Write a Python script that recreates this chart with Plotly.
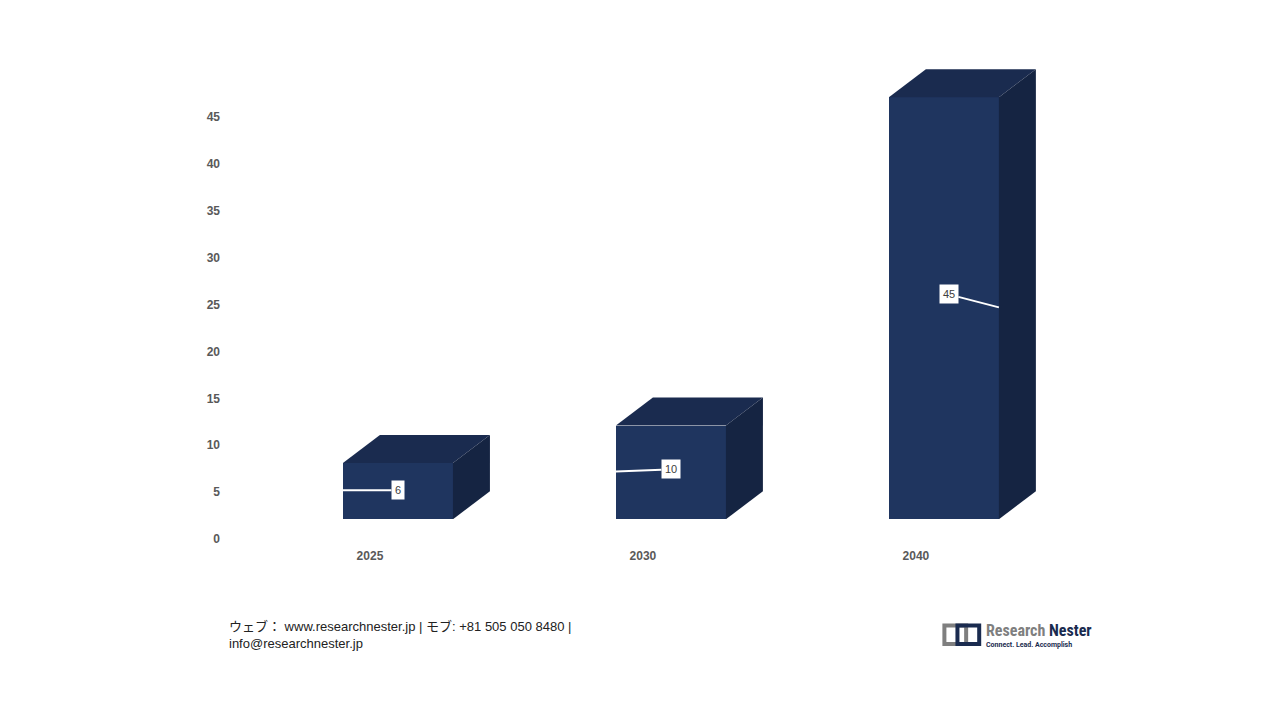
import plotly.graph_objects as go

years = ["2025", "2030", "2040"]
values = [6, 10, 45]
y_ticks = [0, 5, 10, 15, 20, 25, 30, 35, 40, 45]

front_col = "#1F355F"
top_col = "#1A2B4F"
side_col = "#152442"

base = 2.1      # floor of the 3D box
x_off = -0.099  # front face left edge relative to category
bar_w = 0.403
dx, dy = 0.1355, 3.0  # depth of the box

fig = go.Figure()

fig.add_trace(go.Bar(
    x=list(range(len(years))), y=values, base=base, width=bar_w, offset=x_off,
    marker=dict(color=front_col, line=dict(width=0)), showlegend=False, hoverinfo="skip"
))

for i, v in enumerate(values):
    x0, x1 = i + x_off, i + x_off + bar_w
    t = base + v
    fig.add_trace(go.Scatter(
        x=[x0, x1, x1 + dx, x0 + dx, x0], y=[t, t, t + dy, t + dy, t],
        fill="toself", fillcolor=top_col, mode="lines", line=dict(width=0),
        showlegend=False, hoverinfo="skip"))
    fig.add_trace(go.Scatter(
        x=[x1, x1 + dx, x1 + dx, x1, x1], y=[base, base + dy, t + dy, t, base],
        fill="toself", fillcolor=side_col, mode="lines", line=dict(width=0),
        showlegend=False, hoverinfo="skip"))

# value callouts
label_pos = [(0 + x_off, 5.2, 55, 0), (1 + x_off, 7.2, 55, -2), (2 + x_off + bar_w, 24.7, -50, -13)]
for (ax_x, ax_y, ox, oy), v in zip(label_pos, values):
    fig.add_annotation(x=ax_x, y=ax_y, xref="x", yref="y", text=str(v),
                       ax=ox, ay=oy, showarrow=True, arrowhead=0, arrowwidth=2,
                       arrowcolor="white", bgcolor="white", borderpad=3,
                       font=dict(size=11, color="#404040", family="Arial"))

fig.update_layout(
    width=1280, height=720, plot_bgcolor="white", paper_bgcolor="white",
    margin=dict(l=223, r=187, t=43, b=189), bargap=0,
    font=dict(family="Arial, Liberation Sans, sans-serif"),
    xaxis=dict(range=[-0.509, 2.678], tickvals=[0, 1, 2], ticktext=["<b>%s</b>" % y for y in years],
               showgrid=False, zeroline=False, showline=False, ticks="", ticklabelstandoff=8,
               tickfont=dict(size=12, color="#595959")),
    yaxis=dict(range=[0, 52.04], tickvals=y_ticks, ticktext=["<b>%d</b>" % t for t in y_ticks],
               showgrid=False, zeroline=False, showline=False, ticks="", ticklabelstandoff=10,
               tickfont=dict(size=12, color="#595959")),
)

fig.add_annotation(xref="paper", yref="paper", x=-0.005, y=-0.16, xanchor="left", yanchor="top",
                   align="left", showarrow=False,
                   text="ウェブ： www.researchnester.jp | モブ: +81 505 050 8480 |<br>info@researchnester.jp",
                   font=dict(size=13, color="#222222", family="Arial, Noto Sans CJK JP"))

# logo
fig.add_shape(type="rect", xref="paper", yref="paper", x0=0.82, x1=0.845, y0=-0.215, y1=-0.177,
              line=dict(color="#7f7f7f", width=4))
fig.add_shape(type="rect", xref="paper", yref="paper", x0=0.835, x1=0.86, y0=-0.215, y1=-0.177,
              line=dict(color="#1a2b4f", width=4))
fig.add_annotation(xref="paper", yref="paper", x=0.865, y=-0.163, xanchor="left", yanchor="top",
                   showarrow=False, text="<b><span style='color:#7f7f7f'>Research</span> Nester</b>",
                   font=dict(size=16, color="#1a2b4f", family="Roboto Condensed, Roboto"))
fig.add_annotation(xref="paper", yref="paper", x=0.866, y=-0.205, xanchor="left", yanchor="top",
                   showarrow=False, text="<b>Connect. Lead. Accomplish</b>",
                   font=dict(size=7, color="#1a2b4f", family="Roboto"))

fig.write_html("out.html")
